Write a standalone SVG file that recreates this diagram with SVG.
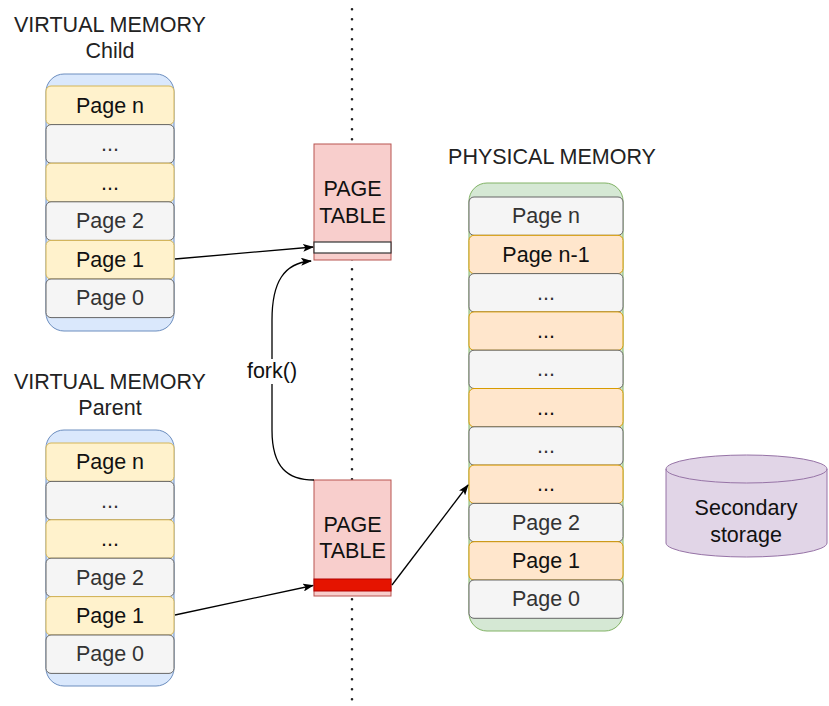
<svg xmlns="http://www.w3.org/2000/svg" width="829" height="706" viewBox="0 0 829 706">
<defs>
<style>
text{font-family:"Liberation Sans",Arial,sans-serif;font-size:21.5px;text-anchor:middle}
.title{fill:#222}
.cb{fill:#dae8fc;stroke:#6c8ebf;stroke-width:1}
.cg{fill:#d5e8d4;stroke:#82b366;stroke-width:1}
.gr{fill:#f5f5f5;stroke:#666;stroke-width:1}
.ye{fill:#fff2cc;stroke:#d6b656;stroke-width:1}
.or{fill:#ffe6cc;stroke:#d79b00;stroke-width:1}
.tg{fill:#333}
.tk{fill:#111}
.pt{fill:#f8cecc;stroke:#b85450;stroke-width:1}
.edge{fill:none;stroke:#000;stroke-width:1.3}
</style>
<marker id="ah" markerWidth="11" markerHeight="8" refX="10" refY="4" orient="auto" markerUnits="userSpaceOnUse">
<path d="M0,0 L11,4 L0,8 L2.5,4 z" fill="#000"/>
</marker>
</defs>
<rect width="829" height="706" fill="#fff"/>
<line x1="352" y1="9.3" x2="352" y2="706" stroke="#222" stroke-width="2.6" stroke-dasharray="0 10" stroke-linecap="round"/>

<g id="vm-child">
<text class="title" x="110" y="32">VIRTUAL MEMORY</text>
<text class="title" x="110" y="58">Child</text>
<rect class="cb" x="46" y="74" width="128" height="257" rx="18"/>
<rect class="ye" x="46" y="86" width="128" height="38.6" rx="5"/><text class="tk" x="110" y="113">Page n</text>
<rect class="gr" x="46" y="124.6" width="128" height="38.6" rx="5"/><text class="tg" x="110" y="151">...</text>
<rect class="ye" x="46" y="163.2" width="128" height="38.6" rx="5"/><text class="tk" x="110" y="190">...</text>
<rect class="gr" x="46" y="201.8" width="128" height="38.6" rx="5"/><text class="tg" x="110" y="228">Page 2</text>
<rect class="ye" x="46" y="240.4" width="128" height="38.6" rx="5"/><text class="tk" x="110" y="267">Page 1</text>
<rect class="gr" x="46" y="279" width="128" height="38.6" rx="5"/><text class="tg" x="110" y="305">Page 0</text>
</g>

<g id="vm-parent">
<text class="title" x="110" y="389">VIRTUAL MEMORY</text>
<text class="title" x="110" y="415">Parent</text>
<rect class="cb" x="46" y="430" width="128" height="256" rx="18"/>
<rect class="ye" x="46" y="443" width="128" height="38.4" rx="5"/><text class="tk" x="110" y="469">Page n</text>
<rect class="gr" x="46" y="481.4" width="128" height="38.4" rx="5"/><text class="tg" x="110" y="508">...</text>
<rect class="ye" x="46" y="519.8" width="128" height="38.4" rx="5"/><text class="tk" x="110" y="546">...</text>
<rect class="gr" x="46" y="558.2" width="128" height="38.4" rx="5"/><text class="tg" x="110" y="585">Page 2</text>
<rect class="ye" x="46" y="596.6" width="128" height="38.4" rx="5"/><text class="tk" x="110" y="623">Page 1</text>
<rect class="gr" x="46" y="635" width="128" height="38.4" rx="5"/><text class="tg" x="110" y="661">Page 0</text>
</g>

<g id="pt-child">
<rect class="pt" x="314" y="144" width="77" height="116"/>
<text class="tk" x="352.5" y="196">PAGE</text>
<text class="tk" x="352.5" y="223">TABLE</text>
<rect x="314" y="242" width="77" height="11" fill="#fff" stroke="#333" stroke-width="1.2"/>
</g>

<g id="pt-parent">
<rect class="pt" x="314" y="480" width="77" height="116"/>
<text class="tk" x="352.5" y="532">PAGE</text>
<text class="tk" x="352.5" y="558">TABLE</text>
<rect x="314" y="579" width="77" height="12" fill="#e51400" stroke="#b20000" stroke-width="1"/>
</g>

<g id="phys-mem">
<text class="title" x="552" y="164">PHYSICAL MEMORY</text>
<rect class="cg" x="469" y="183" width="154" height="448" rx="18"/>
<rect class="gr" x="469" y="197" width="154" height="38.3" rx="5"/><text class="tg" x="546" y="223">Page n</text>
<rect class="or" x="469" y="235.3" width="154" height="38.3" rx="5"/><text class="tk" x="546" y="262">Page n-1</text>
<rect class="gr" x="469" y="273.6" width="154" height="38.3" rx="5"/><text class="tg" x="546" y="300">...</text>
<rect class="or" x="469" y="311.9" width="154" height="38.3" rx="5"/><text class="tk" x="546" y="338">...</text>
<rect class="gr" x="469" y="350.2" width="154" height="38.3" rx="5"/><text class="tg" x="546" y="376">...</text>
<rect class="or" x="469" y="388.5" width="154" height="38.3" rx="5"/><text class="tk" x="546" y="415">...</text>
<rect class="gr" x="469" y="426.8" width="154" height="38.3" rx="5"/><text class="tg" x="546" y="453">...</text>
<rect class="or" x="469" y="465.1" width="154" height="38.3" rx="5"/><text class="tk" x="546" y="491">...</text>
<rect class="gr" x="469" y="503.4" width="154" height="38.3" rx="5"/><text class="tg" x="546" y="530">Page 2</text>
<rect class="or" x="469" y="541.7" width="154" height="38.3" rx="5"/><text class="tk" x="546" y="568">Page 1</text>
<rect class="gr" x="469" y="580" width="154" height="38.3" rx="5"/><text class="tg" x="546" y="606">Page 0</text>
</g>

<g id="secondary-storage">
<path d="M666,469 A80.5,14 0 0 1 827,469 L827,543 A80.5,14 0 0 1 666,543 Z" fill="#e1d5e7" stroke="#9673a6" stroke-width="1"/>
<path d="M666,469 A80.5,14 0 0 0 827,469" fill="none" stroke="#9673a6" stroke-width="1"/>
<text class="tk" x="746" y="515">Secondary</text>
<text class="tk" x="746" y="542">storage</text>
</g>

<g id="connectors">
<line class="edge" x1="175" y1="259" x2="313" y2="247" marker-end="url(#ah)"/>
<line class="edge" x1="175" y1="615" x2="313" y2="585.5" marker-end="url(#ah)"/>
<line class="edge" x1="392" y1="585" x2="468" y2="485" marker-end="url(#ah)"/>
<path class="edge" d="M314,480 C288,480 272,468 272,430 L272,320 C272,282 284,263 311,261" marker-end="url(#ah)"/>
<rect x="245" y="359" width="54" height="25" fill="#fff"/>
<text class="tk" x="272" y="378">fork()</text>
</g>
</svg>
